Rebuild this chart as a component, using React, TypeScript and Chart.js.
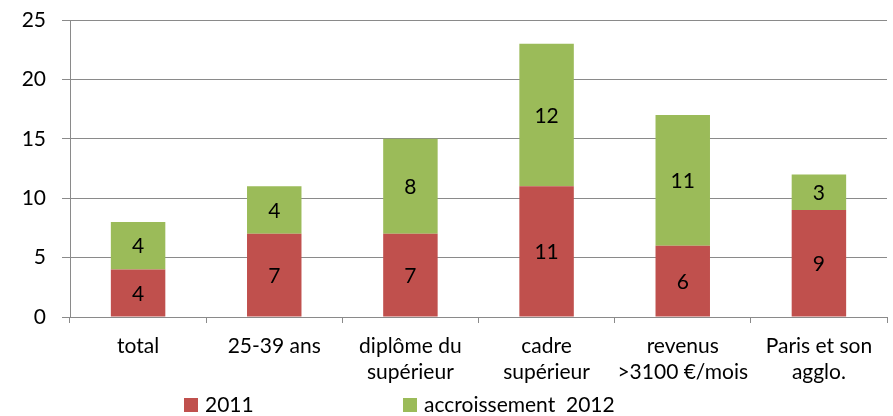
import { useEffect, useRef } from "react";
import { Chart, registerables } from "chart.js";

Chart.register(...registerables);

const categories: (string | string[])[] = [
  "total",
  "25-39 ans",
  ["diplôme du", "supérieur"],
  ["cadre", "supérieur"],
  ["revenus", ">3100 €/mois"],
  ["Paris et son", "agglo."],
];
const series2011 = [4, 7, 7, 11, 6, 9];
const accroissement2012 = [4, 4, 8, 12, 11, 3];
const seriesNames = ["2011", "accroissement  2012"];
const seriesColors = ["#C0504D", "#9BBB59"];
const yMin = 0;
const yMax = 25;
const yStep = 5;

const FONT = "Lato, 'Open Sans', sans-serif";
const GRID = "#8a8a8a";

const valueLabels = {
  id: "valueLabels",
  afterDatasetsDraw(chart: any) {
    const ctx = chart.ctx;
    ctx.save();
    ctx.font = `21px ${FONT}`;
    ctx.fillStyle = "#000";
    ctx.textAlign = "center";
    ctx.textBaseline = "middle";
    chart.data.datasets.forEach((ds: any, i: number) => {
      const meta = chart.getDatasetMeta(i);
      meta.data.forEach((el: any, j: number) => {
        const { x, y, base } = el.getProps(["x", "y", "base"], true);
        ctx.fillText(String(ds.data[j]), x, (y + base) / 2 + 1);
      });
    });
    ctx.restore();
  },
};

const bottomLegend = {
  id: "bottomLegend",
  afterDraw(chart: any) {
    const ctx = chart.ctx;
    ctx.save();
    ctx.font = `21px ${FONT}`;
    ctx.textBaseline = "middle";
    ctx.textAlign = "left";
    const startX = 184;
    const colW = 219;
    const box = 14;
    const cy = chart.height - 11;
    chart.data.datasets.forEach((ds: any, i: number) => {
      const x = startX + i * colW;
      ctx.fillStyle = ds.backgroundColor;
      ctx.fillRect(x, cy - box / 2, box, box);
      ctx.fillStyle = "#000";
      ctx.fillText(ds.label, x + 21, cy);
    });
    ctx.restore();
  },
};

export default function App() {
  const ref = useRef<HTMLCanvasElement | null>(null);
  useEffect(() => {
    document.body.style.margin = "0";
    if (!ref.current) return;
    const chart = new Chart(ref.current, {
      type: "bar",
      data: {
        labels: categories as any,
        datasets: [
          {
            label: seriesNames[0],
            data: series2011,
            backgroundColor: seriesColors[0],
            barPercentage: 0.4,
            categoryPercentage: 1,
          },
          {
            label: seriesNames[1],
            data: accroissement2012,
            backgroundColor: seriesColors[1],
            barPercentage: 0.4,
            categoryPercentage: 1,
          },
        ],
      },
      options: {
        responsive: false,
        animation: false,
        layout: {
          padding: { top: 20, right: 6, left: 0, bottom: 29 },
        },
        plugins: {
          legend: { display: false },
          tooltip: { enabled: false },
        },
        scales: {
          x: {
            stacked: true,
            grid: {
              display: true,
              drawOnChartArea: false,
              drawTicks: true,
              tickLength: 6,
              color: GRID,
              offset: true,
            },
            border: { color: GRID },
            ticks: {
              font: { family: FONT, size: 21, lineHeight: 1.2 },
              color: "#000",
              padding: 11,
              maxRotation: 0,
              autoSkip: false,
            },
            afterFit: (s: any) => {
              s.height = 70;
            },
          },
          y: {
            stacked: true,
            min: yMin,
            max: yMax,
            grid: { color: GRID, tickLength: 8 },
            border: { color: GRID },
            ticks: {
              stepSize: yStep,
              font: { family: FONT, size: 21 },
              color: "#000",
              padding: 16,
            },
            afterFit: (s: any) => {
              s.width = 70;
              s.paddingTop = 10;
              s.paddingBottom = 10;
            },
          },
        },
      },
      plugins: [valueLabels, bottomLegend],
    });
    return () => chart.destroy();
  }, []);
  return (
    <div style={{ width: 893, height: 416 }}>
      <canvas ref={ref} width={893} height={416} />
    </div>
  );
}
